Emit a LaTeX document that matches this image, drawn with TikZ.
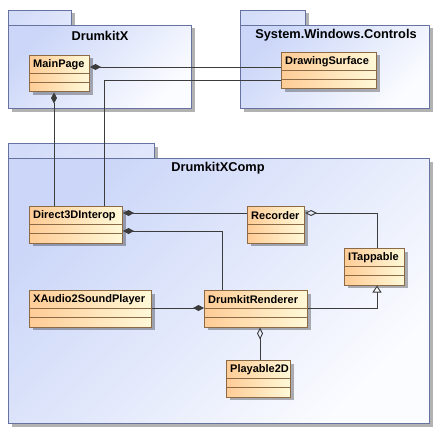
\documentclass[tikz,border=0pt]{standalone}
\usepackage{fontspec}
\setmainfont{Liberation Sans}
\usetikzlibrary{arrows.meta,shadows}
\definecolor{pkgA}{HTML}{CBD6F8}
\definecolor{pkgB}{HTML}{FBFCFF}
\definecolor{pkgTab}{HTML}{D3DCF9}
\definecolor{pkgLine}{HTML}{6673A0}
\definecolor{clsA}{HTML}{FFCC96}
\definecolor{clsB}{HTML}{FFF9D8}
\definecolor{clsLine}{HTML}{8C6A46}
\definecolor{conLine}{HTML}{3C3C3C}
\tikzset{
  shd/.style={drop shadow={shadow xshift=3pt,shadow yshift=-3pt,fill=black,opacity=0.3}},
  pkgtab/.style={shd,draw=pkgLine,line width=1pt,left color=pkgTab,right color=pkgA!60!white,shading angle=45,anchor=north west,inner sep=0pt},
  pkgbody/.style={shd,draw=pkgLine,line width=1pt,left color=pkgA,right color=pkgB,shading angle=45,anchor=north west,inner sep=0pt},
  pkgtext/.style={font=\bfseries\fontsize{12.8}{14}\selectfont,inner sep=0pt},
  cls/.style={shd,draw=clsLine,line width=1pt,left color=clsA,right color=clsB,anchor=north west,inner sep=0pt,minimum height=36.5pt},
  clsrule/.style={draw=clsLine,line width=0.8pt},
  clstext/.style={font=\bfseries\fontsize{11}{13}\selectfont,inner sep=0pt,anchor=west},
  con/.style={draw=conLine,line width=0.9pt},
  comp/.style={con,arrows={Diamond[length=11pt,width=6pt,fill=conLine]-}},
  agg/.style={con,arrows={Diamond[length=12pt,width=6pt,open]-}},
  gen/.style={con,arrows={-Triangle[length=7pt,width=9pt,fill=white]}},
}
\newcommand{\umlcls}[5]{%
  \node[cls,minimum width=#4pt] (#1) at (#2,#3) {};
  \draw[clsrule] ([yshift=-18.5pt]#1.north west) -- ([yshift=-18.5pt]#1.north east);
  \draw[clsrule] ([yshift=-27.5pt]#1.north west) -- ([yshift=-27.5pt]#1.north east);
  \node[clstext] (#1-t) at ([xshift=4pt,yshift=-9.5pt]#1.north west) {#5};
}
\begin{document}
\begin{tikzpicture}[x=1pt,y=-1pt]
\useasboundingbox[fill=white] (0,0) rectangle (438,433);
% packages
\node[pkgtab,minimum width=63pt,minimum height=15pt] (pxtab) at (8,10) {};
\node[pkgbody,minimum width=183pt,minimum height=83pt] (px) at (8,25) {};
\node[pkgtext] (px-t) at (100,35.5) {DrumkitX};
\node[pkgtab,minimum width=65pt,minimum height=15pt] (pwtab) at (240,10) {};
\node[pkgbody,minimum width=189pt,minimum height=83pt] (pw) at (240,25) {};
\node[pkgtext] (pw-t) at (336,35.5) {System.Windows.Controls};
\node[pkgtab,minimum width=146pt,minimum height=15pt] (pctab) at (8,143) {};
\node[pkgbody,minimum width=421pt,minimum height=265pt] (pc) at (8,158) {};
\node[pkgtext] (pc-t) at (218,168) {DrumkitXComp};
% classes
\umlcls{mp}{29}{55}{60}{MainPage}
\umlcls{ds}{281}{52}{95}{DrawingSurface}
\umlcls{d3d}{29}{206}{93}{Direct3DInterop}
\umlcls{rec}{247}{206}{57}{Recorder}
\umlcls{itap}{344}{248}{60}{ITappable}
\umlcls{xa}{29}{290}{122}{XAudio2SoundPlayer}
\umlcls{dr}{204}{290}{103}{DrumkitRenderer}
\umlcls{p2d}{226}{360}{64}{Playable2D}
% connectors
\draw[comp] (mp.east |- 0,67) -- (ds.west |- 0,67);
\draw[con] (ds.west |- 0,80) -| (d3d.north -| 104,0);
\draw[comp] (mp.south -| 54,0) -- (d3d.north -| 54,0);
\draw[comp] (d3d.east |- 0,213) -- (rec.west |- 0,213);
\draw[comp] (d3d.east |- 0,231) -| (dr.north -| 222,0);
\draw[agg] (rec.east |- 0,213) -| (itap.north -| 377,0);
\draw[gen] (dr.east |- 0,308) -| (itap.south -| 377,0);
\draw[comp] (dr.west |- 0,308) -- (xa.east |- 0,308);
\draw[agg] (dr.south -| 260,0) -- (p2d.north -| 260,0);
\end{tikzpicture}
\end{document}
